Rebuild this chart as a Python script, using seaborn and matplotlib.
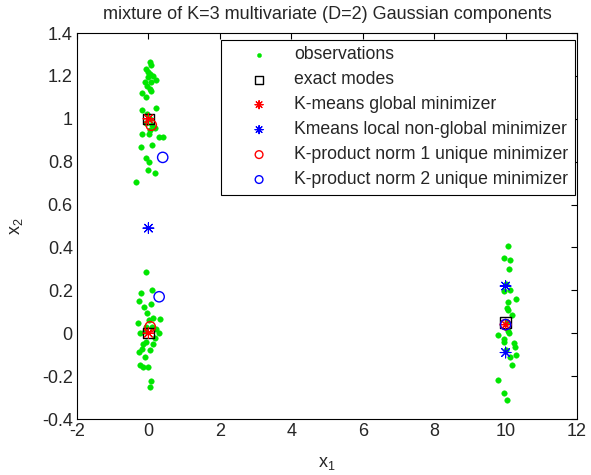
import matplotlib
matplotlib.use("Agg")
import matplotlib.pyplot as plt
import seaborn as sns
import pandas as pd

# ---- data ----
obs_x_a = [0.05, 0.08, -0.06, 0.03, -0.02, -0.11, 0.08, 0.21, -0.03, 0.03, 0.08, -0.18, -0.17, 0.20,
           -0.06, 0.17, 0.03, -0.18, 0.29, 0.40, -0.20, -0.06, 0.01, -0.02, 0.17, -0.36,
           0.05, -0.05, 0.10, 0.00, 0.12, -0.08, 0.10, 0.02]
obs_y_a = [1.265, 1.25, 1.23, 1.21, 1.195, 1.17, 1.17, 1.18, 1.155, 1.14, 1.13, 1.12, 1.04, 1.05,
           0.98, 0.955, 0.947, 0.928, 0.915, 0.913, 0.87, 0.815, 0.80, 0.763, 0.745, 0.706,
           1.00, 1.02, 0.97, 1.22, 1.20, 1.10, 0.88, 0.93]
obs_x_b = [-0.06, -0.20, 0.09, -0.27, 0.08, -0.05, 0.12, 0.31, 0.01, -0.30, -0.06, 0.20, -0.23,
           0.29, 0.17, -0.06, 0.12, -0.16, -0.18, -0.27, -0.11, -0.25, -0.16, -0.02, 0.08, 0.03,
           0.10, -0.10, 0.05, -0.12]
obs_y_b = [0.286, 0.188, 0.20, 0.15, 0.138, 0.092, 0.07, 0.068, 0.06, 0.048, 0.03, 0.022, 0.0,
           0.002, -0.02, -0.04, -0.048, -0.05, -0.075, -0.087, -0.11, -0.15, -0.157, -0.157,
           -0.224, -0.25, 0.03, 0.01, -0.08, 0.12]
obs_x_c = [10.06, 9.96, 10.12, 9.96, 10.13, 10.30, 10.06, 10.03, 10.08, 10.17, 10.06, 10.10, 9.80,
           9.96, 9.96, 10.23, 10.26, 10.30, 10.12, 10.17, 9.79, 9.96, 10.03,
           10.00, 10.05, 10.00, 10.10]
obs_y_c = [0.406, 0.35, 0.34, 0.196, 0.20, 0.16, 0.145, 0.118, 0.11, 0.084, 0.01, 0.0, -0.01,
           -0.025, -0.04, -0.045, -0.065, -0.10, -0.11, -0.15, -0.22, -0.28, -0.31,
           0.23, 0.05, -0.08, 0.30]

modes_x = [0.0, 0.0, 10.0]
modes_y = [1.0, 0.0, 0.05]
kmeans_global_x = [0.0, 0.0, 10.0]
kmeans_global_y = [1.0, 0.0, 0.04]
kmeans_local_x = [0.0, 10.0, 10.0]
kmeans_local_y = [0.49, 0.22, -0.09]
kprod1_x = [0.08, 0.05, 10.0]
kprod1_y = [0.97, 0.03, 0.04]
kprod2_x = [0.40, 0.30, 10.0]
kprod2_y = [0.82, 0.17, 0.04]

labels = ["observations", "exact modes", "K-means global minimizer",
          "Kmeans local non-global minimizer", "K-product norm 1 unique minimizer",
          "K-product norm 2 unique minimizer"]
title = "mixture of K=3 multivariate (D=2) Gaussian components"
xticks = [-2, 0, 2, 4, 6, 8, 10, 12]
yticks = [-0.4, -0.2, 0, 0.2, 0.4, 0.6, 0.8, 1, 1.2, 1.4]
yticklabels = ["-0.4", "-0.2", "0", "0.2", "0.4", "0.6", "0.8", "1", "1.2", "1.4"]

# ---- plot ----
sns.set_style("white")
plt.rcParams['font.family'] = ['Liberation Sans', 'DejaVu Sans']
plt.rcParams['mathtext.fontset'] = 'custom'
plt.rcParams['mathtext.rm'] = 'Liberation Sans'

fig = plt.figure(figsize=(5.91, 4.75), dpi=100)
ax = fig.add_axes([77/591, 1 - 419/475, 500/591, 386/475])

obs = pd.DataFrame({"x": obs_x_a + obs_x_b + obs_x_c, "y": obs_y_a + obs_y_b + obs_y_c})
green = "#00e600"
sns.scatterplot(data=obs, x="x", y="y", ax=ax, color=green, marker="o", s=16,
                edgecolor=green, linewidth=0.3, label=labels[0])

def open_markers(xs, ys, marker, col, s, lab, lw=1.0):
    df = pd.DataFrame({"x": xs, "y": ys})
    sns.scatterplot(data=df, x="x", y="y", ax=ax, marker=marker, s=s, label=lab,
                    color=col, linewidth=lw)
    coll = ax.collections[-1]
    coll.set_facecolor("none")
    coll.set_edgecolor(col)

asterisk = (8, 2, 0)
open_markers(modes_x, modes_y, "s", "black", 55, labels[1])
open_markers(kmeans_global_x, kmeans_global_y, asterisk, "red", 60, labels[2], lw=0.8)
open_markers(kmeans_local_x, kmeans_local_y, asterisk, "blue", 60, labels[3], lw=0.8)
open_markers(kprod1_x, kprod1_y, "o", "red", 55, labels[4])
open_markers(kprod2_x, kprod2_y, "o", "blue", 55, labels[5])

ax.set_xlim(-2, 12)
ax.set_ylim(-0.4, 1.4)
ax.set_xticks(xticks)
ax.set_yticks(yticks)
ax.set_xticklabels([str(t) for t in xticks])
ax.set_yticklabels(yticklabels)
ax.tick_params(direction="in", top=True, right=True, length=4, width=0.8,
               labelsize=13, color="black", pad=3)
for sp in ax.spines.values():
    sp.set_color("black")
    sp.set_linewidth(0.8)

ax.set_xlabel(r"x$_1$", fontsize=13, labelpad=11)
ax.set_ylabel(r"x$_2$", fontsize=13, labelpad=12)
ax.set_title(title, fontsize=13, pad=10)

handles, labs = ax.get_legend_handles_labels()
leg = ax.legend(handles, labs, loc="upper right", bbox_to_anchor=(0.996, 0.982),
                borderaxespad=0, fontsize=12.7, handlelength=3.6, handletextpad=0.2,
                labelspacing=0.45, borderpad=0.37, frameon=True, fancybox=False,
                edgecolor="black", framealpha=1, markerscale=0.75)
leg.get_frame().set_linewidth(0.8)

fig.savefig("out.png", dpi=100)
